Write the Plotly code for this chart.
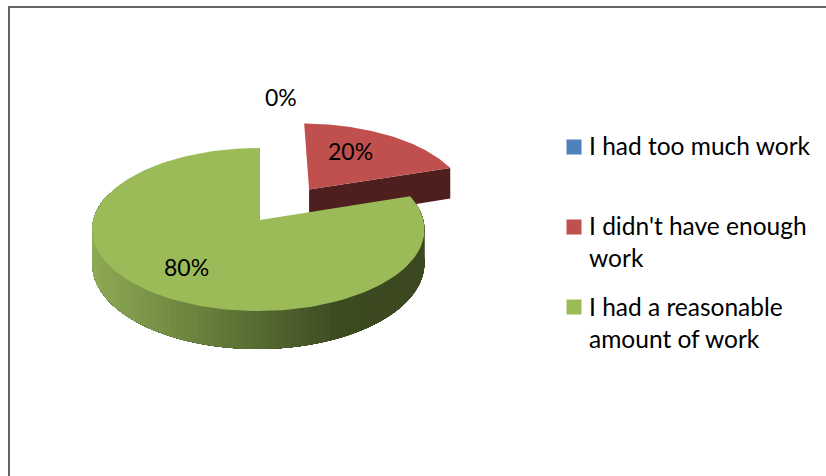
import numpy as np
import plotly.graph_objects as go

categories = ["I had too much work", "I didn't have enough<br>work", "I had a reasonable<br>amount of work"]
values = [0, 20, 80]
colors = ["#4F81BD", "#C0504D", "#9BBB59"]
FONT = "Lato"

CX, CY, RX, RY, K, M, DEPTH = 260, 220, 165, 80.4, 0.117, 0.010, 33.5
EXPLODE = [0, 0.494, 0]
EXPLODE_NUDGE_U = 0.022
STOPS = [(0, (141, 170, 84)), (.6, (75, 94, 42)), (.75, (61, 75, 33)), (1, (60, 72, 32))]
RED_SIDE = "#4F1F1F"


def project(u, v, drop=0.0):
    w = 1 + K * np.asarray(v) + M * np.asarray(u)
    return CX + RX * np.asarray(u) / w, CY - RY * np.asarray(v) / w + drop * DEPTH / w


def poly(x, y, color):
    return go.Scatter(x=list(x), y=list(y), mode="lines", fill="toself", fillcolor=color,
                      line=dict(color=color, width=0), hoverinfo="skip", showlegend=False)


def rim(a0, a1, ou, ov, n=160):
    t = np.radians(np.linspace(a0, a1, n))
    return ou + np.sin(t), ov + np.cos(t)


def side_color(x):
    t = float(np.clip((x - 92) / 332, 0, 1))
    for (t0, c0), (t1, c1) in zip(STOPS, STOPS[1:]):
        if t <= t1:
            f = (t - t0) / (t1 - t0)
            return "rgb(%d,%d,%d)" % tuple(round(a + (b - a) * f) for a, b in zip(c0, c1))
    return "rgb(60,72,32)"


fig = go.Figure()
angles = np.cumsum([0] + values) / sum(values) * 360
order = [1, 2]  # the exploded back slice is painted first
for i in order:
    a0, a1 = angles[i], angles[i + 1]
    mid = np.radians((a0 + a1) / 2)
    ou, ov = EXPLODE[i] * np.sin(mid), EXPLODE[i] * np.cos(mid)
    if EXPLODE[i] > 0:
        ou += EXPLODE_NUDGE_U
        eu, ev = ou + np.sin(np.radians(a1)), ov + np.cos(np.radians(a1))
        x1, y1 = project([ou, eu], [ov, ev])
        x2, y2 = project([eu, ou], [ev, ov], 1)
        fig.add_trace(poly(np.r_[x1, x2], np.r_[y1, y2], RED_SIDE))
    else:
        end = min(a1, 290)
        edges = np.linspace(max(a0, 70), end, 90)
        for e0, e1 in zip(edges, edges[1:]):
            # each band runs to the far end and is over-painted by the next, so no seams show
            u, v = rim(e0, end, ou, ov, 40)
            x1, y1 = project(u, v)
            x2, y2 = project(u[::-1], v[::-1], 1)
            cu, cv = rim(e0, e1, ou, ov, 2)
            fig.add_trace(poly(np.r_[x1, x2], np.r_[y1, y2], side_color(project(cu, cv)[0].mean())))
    u, v = rim(a0, a1, ou, ov)
    x, y = project(np.r_[ou, u], np.r_[ov, v])
    fig.add_trace(poly(x, y, colors[i]))

label_xy = [(281, 97), (350, 151), (186, 267)]
for val, (lx, ly) in zip(values, label_xy):
    fig.add_annotation(x=lx, y=ly, text=f"{val}%", showarrow=False,
                       font=dict(family=FONT, size=23, color="#000"))

legend_y = [147, 227, 307]
text_y = [145.5, 241.5, 322.5]
fig.add_trace(go.Scatter(x=[574] * 3, y=legend_y, mode="markers", showlegend=False, hoverinfo="skip",
                         marker=dict(symbol="square", size=15, color=colors, line=dict(width=0))))
for name, ty in zip(categories, text_y):
    fig.add_annotation(x=587, y=ty, xanchor="left", align="left", text=name, showarrow=False,
                       font=dict(family=FONT, size=24.5, color="#000"))

fig.update_layout(
    width=826, height=476, margin=dict(l=0, r=0, t=0, b=0),
    paper_bgcolor="white", plot_bgcolor="white", showlegend=False,
    xaxis=dict(range=[0, 826], visible=False, fixedrange=True),
    yaxis=dict(range=[476, 0], visible=False, fixedrange=True),
    shapes=[dict(type="rect", xref="x", yref="y", x0=9, y0=7, x1=900, y1=600,
                 line=dict(color="#646464", width=2))],
)
fig.write_html("out.html", config={"displayModeBar": False},
               post_script="document.body.style.margin='0';document.documentElement.style.overflow='hidden';")
